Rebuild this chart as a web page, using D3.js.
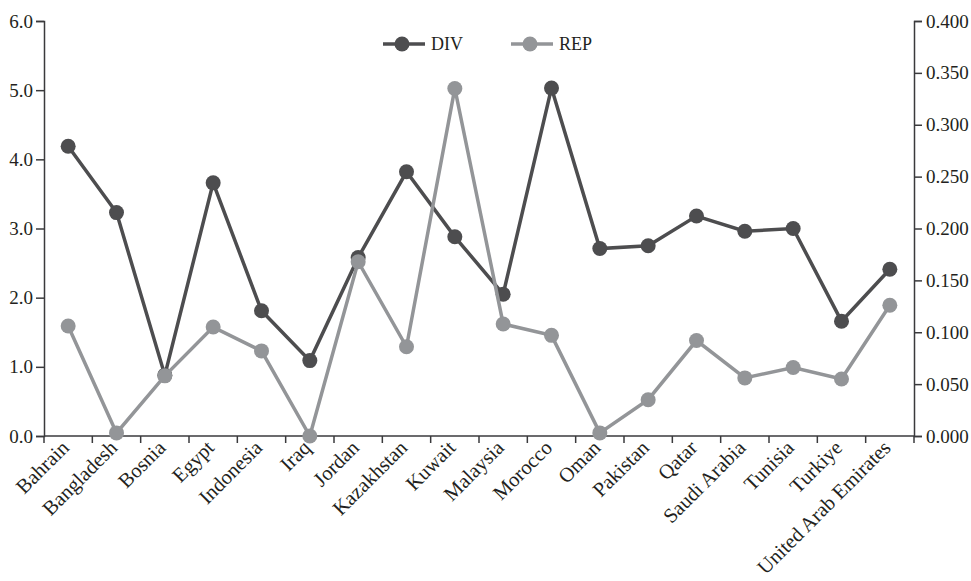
<!DOCTYPE html>
<html>
<head>
<meta charset="utf-8">
<script src="https://cdn.jsdelivr.net/npm/d3@7"></script>
<style>
  body { margin: 0; background: #fff; }
  text { font-family: "Liberation Serif", "DejaVu Serif", serif; fill: #231f20; }
</style>
</head>
<body>
<div id="wrapper"></div>
<script>
const countries = ['Bahrain', 'Bangladesh', 'Bosnia', 'Egypt', 'Indonesia', 'Iraq', 'Jordan',
  'Kazakhstan', 'Kuwait', 'Malaysia', 'Morocco', 'Oman', 'Pakistan', 'Qatar',
  'Saudi Arabia', 'Tunisia', 'Turkiye', 'United Arab Emirates']
const divValues = [4.19, 3.23, 0.88, 3.66, 1.81, 1.09, 2.58, 3.82, 2.88, 2.05, 5.03, 2.71,
  2.75, 3.18, 2.96, 3.00, 1.66, 2.41]
const repValues = [0.106, 0.003, 0.058, 0.105, 0.082, 0.000, 0.168, 0.086, 0.335, 0.108,
  0.097, 0.003, 0.035, 0.092, 0.056, 0.066, 0.055, 0.126]
const leftTicks = [0, 1, 2, 3, 4, 5, 6]
const rightTicks = [0, 0.05, 0.1, 0.15, 0.2, 0.25, 0.3, 0.35, 0.4]

const colors = { DIV: '#4d4d4f', REP: '#939598' }

let dimensions = {
  width: 971,
  height: 581,
  margin: { top: 21, right: 57, bottom: 145, left: 44 }
}
dimensions.boundedWidth = dimensions.width - dimensions.margin.left - dimensions.margin.right
dimensions.boundedHeight = dimensions.height - dimensions.margin.top - dimensions.margin.bottom

const wrapper = d3.select('#wrapper')
  .append('svg')
  .attr('width', dimensions.width)
  .attr('height', dimensions.height)

const bounds = wrapper.append('g')
  .attr('transform', `translate(${dimensions.margin.left},${dimensions.margin.top})`)

// SCALES
const xScale = d3.scaleBand()
  .domain(countries)
  .range([0, dimensions.boundedWidth])

const yLeft = d3.scaleLinear()
  .domain([0, 6])
  .range([dimensions.boundedHeight, 0])

const yRight = d3.scaleLinear()
  .domain([0, 0.4])
  .range([dimensions.boundedHeight, 0])

const xCenter = c => xScale(c) + xScale.bandwidth() / 2

// AXES
const axisColor = '#3a3a3c'

const yAxisLeft = bounds.append('g')
  .call(d3.axisLeft(yLeft).tickValues(leftTicks).tickFormat(d3.format('.1f')).tickSize(8).tickPadding(3))
yAxisLeft.selectAll('text').style('font-size', '19px')

const yAxisRight = bounds.append('g')
  .attr('transform', `translate(${dimensions.boundedWidth},0)`)
  .call(d3.axisRight(yRight).tickValues(rightTicks).tickFormat(d3.format('.3f')).tickSize(8).tickPadding(4))
yAxisRight.selectAll('text').style('font-size', '19px')

const xAxis = bounds.append('g')
  .attr('transform', `translate(0,${dimensions.boundedHeight})`)

xAxis.append('line')
  .attr('x1', 0).attr('x2', dimensions.boundedWidth)
  .attr('stroke', axisColor).attr('stroke-width', 1.5)

// ticks at band edges
xAxis.selectAll('.edge')
  .data(d3.range(countries.length + 1))
  .join('line')
  .attr('x1', i => i * xScale.bandwidth())
  .attr('x2', i => i * xScale.bandwidth())
  .attr('y1', 0).attr('y2', 7)
  .attr('stroke', axisColor).attr('stroke-width', 1.5)

xAxis.selectAll('.label')
  .data(countries)
  .join('text')
  .attr('text-anchor', 'end')
  .attr('transform', d => `translate(${xCenter(d) + 2},${13}) rotate(-45)`)
  .style('font-size', '20.5px')
  .text(d => d)

bounds.selectAll('.domain, .tick line').attr('stroke', axisColor).attr('stroke-width', 1.5)

// LINES
const seriesList = [
  { name: 'DIV', values: divValues, scale: yLeft },
  { name: 'REP', values: repValues, scale: yRight }
]

seriesList.forEach(s => {
  const lineGenerator = d3.line()
    .x((d, i) => xCenter(countries[i]))
    .y(d => s.scale(d))

  bounds.append('path')
    .attr('d', lineGenerator(s.values))
    .attr('fill', 'none')
    .attr('stroke', colors[s.name])
    .attr('stroke-width', 3.5)

  bounds.selectAll('.pt-' + s.name)
    .data(s.values)
    .join('circle')
    .attr('cx', (d, i) => xCenter(countries[i]))
    .attr('cy', d => s.scale(d))
    .attr('r', 7.5)
    .attr('fill', colors[s.name])
})

// LEGEND
const legend = wrapper.append('g')
  .attr('transform', 'translate(383,44)')

seriesList.forEach((s, i) => {
  const g = legend.append('g').attr('transform', `translate(${i * 128},0)`)
  g.append('line')
    .attr('x1', 0).attr('x2', 42)
    .attr('stroke', colors[s.name]).attr('stroke-width', 3.5)
  g.append('circle')
    .attr('cx', 19).attr('r', 7.5)
    .attr('fill', colors[s.name])
  g.append('text')
    .attr('x', 48)
    .attr('dy', '0.35em')
    .style('font-size', '18px')
    .text(s.name)
})
</script>
</body>
</html>
